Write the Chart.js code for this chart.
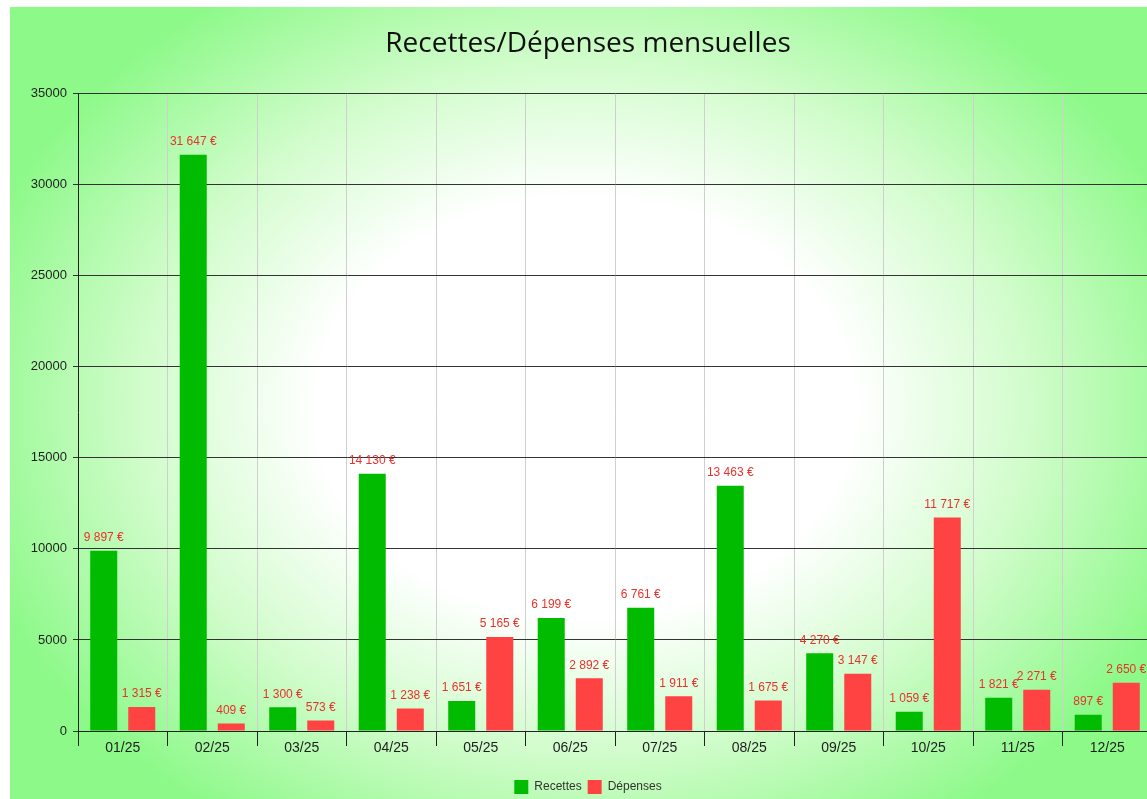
<!DOCTYPE html>
<html lang="fr">
<head>
<meta charset="utf-8">
<title>Recettes/Dépenses mensuelles</title>
<script src="https://cdn.jsdelivr.net/npm/chart.js@4.4.1/dist/chart.umd.min.js"></script>
<style>
    html, body { margin: 0; padding: 0; background: #fff; overflow: hidden; }
    #zone { position: absolute; left: 10px; top: 7px; width: 1156px; height: 797px; }
</style>
</head>
<body>
<div id="zone"><canvas id="graphique"></canvas></div>
<script>
// Données du graphique
const mois = ['01/25', '02/25', '03/25', '04/25', '05/25', '06/25', '07/25', '08/25', '09/25', '10/25', '11/25', '12/25'];
const recettes = [9897, 31647, 1300, 14130, 1651, 6199, 6761, 13463, 4270, 1059, 1821, 897];
const depenses = [1315, 409, 573, 1238, 5165, 2892, 1911, 1675, 3147, 11717, 2271, 2650];
const axeMax = 35000;
const axePas = 5000;

const police = '"Liberation Sans", Arial, sans-serif';

// formatage "31 647 €"
function formaterEuro(v) {
    return String(v).replace(/\B(?=(\d{3})+(?!\d))/g, ' ') + ' €';
}

// fond dégradé vert / blanc
const fondDegrade = {
    id: 'fondDegrade',
    beforeDraw(chart) {
        const c = chart.ctx;
        const w = chart.width, h = chart.height;
        c.save();
        c.translate(575, 400);
        c.scale(1, 0.78);
        const g = c.createRadialGradient(0, 0, 0, 0, 0, 640);
        g.addColorStop(0, '#ffffff');
        g.addColorStop(0.42, '#ffffff');
        g.addColorStop(0.7, '#d0fcca');
        g.addColorStop(1, '#8cf988');
        c.fillStyle = g;
        c.fillRect(-575, -400 / 0.78, w, h / 0.78);
        c.restore();
    }
};

// étiquettes de valeurs au-dessus des barres
const etiquettes = {
    id: 'etiquettes',
    afterDatasetsDraw(chart) {
        const c = chart.ctx;
        c.save();
        c.font = '12px ' + police;
        c.fillStyle = '#e8332c';
        c.textAlign = 'center';
        c.textBaseline = 'bottom';
        chart.data.datasets.forEach(function(ds, i) {
            chart.getDatasetMeta(i).data.forEach(function(barre, j) {
                c.fillText(formaterEuro(ds.data[j]), barre.x, barre.y - 7);
            });
        });
        c.restore();
    }
};

new Chart(document.getElementById('graphique'), {
    type: 'bar',
    data: {
        labels: mois,
        datasets: [
            {
                label: 'Recettes',
                data: recettes,
                backgroundColor: '#00bb00',
                barPercentage: 0.71,
                categoryPercentage: 0.85
            },
            {
                label: 'Dépenses',
                data: depenses,
                backgroundColor: '#ff4242',
                barPercentage: 0.71,
                categoryPercentage: 0.85
            }
        ]
    },
    options: {
        responsive: true,
        maintainAspectRatio: false,
        animation: false,
        layout: {
            padding: { left: 14, right: 14, top: 0, bottom: 0 }
        },
        plugins: {
            title: {
                display: true,
                text: 'Recettes/Dépenses mensuelles',
                color: '#111',
                font: { family: '"Open Sans", sans-serif', size: 28, weight: 'normal' },
                padding: { top: 20, bottom: 33 }
            },
            legend: {
                position: 'bottom',
                labels: {
                    boxWidth: 14,
                    boxHeight: 14,
                    padding: 6,
                    color: '#333',
                    font: { family: police, size: 12 }
                }
            },
            tooltip: { enabled: false }
        },
        scales: {
            x: {
                afterFit(scale) { scale.height = 43; },
                grid: {
                    offset: true,
                    color: '#cfcfcf',
                    tickColor: '#222',
                    tickLength: 15,
                    lineWidth: 1
                },
                border: { color: '#222', width: 1 },
                ticks: {
                    color: '#1e1e1e',
                    padding: -6,
                    font: { family: police, size: 14 }
                }
            },
            y: {
                min: 0,
                max: axeMax,
                afterFit(scale) { scale.width = 54; },
                grid: {
                    color: '#333',
                    tickColor: '#333',
                    tickLength: 5
                },
                border: { color: '#222', width: 1 },
                ticks: {
                    stepSize: axePas,
                    color: '#1e1e1e',
                    padding: 6,
                    font: { family: police, size: 13 },
                    callback: function(v) { return String(v); }
                }
            }
        }
    },
    plugins: [fondDegrade, etiquettes]
});
</script>
</body>
</html>
